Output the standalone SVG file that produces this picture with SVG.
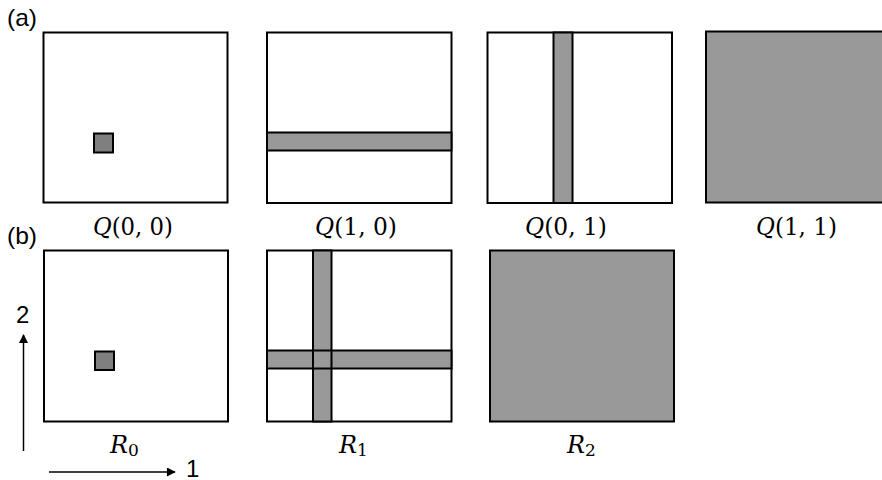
<svg xmlns="http://www.w3.org/2000/svg" width="882" height="480" viewBox="0 0 882 480">
<style>
.box{fill:#fff;stroke:#000;stroke-width:2}
.full{fill:#999;stroke:#000;stroke-width:2}
.bar{fill:#999;stroke:#000;stroke-width:2}
.dot{fill:#7f7f7f;stroke:#000;stroke-width:2}
.lab{font-family:"DejaVu Serif","Liberation Serif",serif;font-size:24px;fill:#000}
.it{font-style:italic}
.sans{font-family:"Liberation Sans",Arial,sans-serif;fill:#000;font-size:24px}
.ax{stroke:#000;stroke-width:1.5;fill:none}
</style>
<defs>
<marker id="ah" viewBox="0 0 10 10" refX="9" refY="5" markerWidth="10" markerHeight="9" orient="auto" markerUnits="userSpaceOnUse">
<path d="M0,0 L10,5 L0,10 z" fill="#000"/>
</marker>
</defs>
<text class="sans" x="7" y="26" textLength="30" lengthAdjust="spacingAndGlyphs">(a)</text>
<text class="sans" x="7" y="244" textLength="30" lengthAdjust="spacingAndGlyphs">(b)</text>

<g id="Q00">
<rect class="box" x="43.5" y="32.5" width="184" height="170"/>
<rect class="dot" x="94" y="133.5" width="19" height="19"/>
<text class="lab" x="93" y="235" textLength="80" lengthAdjust="spacingAndGlyphs"><tspan class="it">Q</tspan>(0, 0)</text>
</g>
<g id="Q10">
<rect class="box" x="267" y="32.5" width="184.5" height="170.5"/>
<rect class="bar" x="267" y="132.5" width="184.5" height="18"/>
<text class="lab" x="315" y="235" textLength="82" lengthAdjust="spacingAndGlyphs"><tspan class="it">Q</tspan>(1, 0)</text>
</g>
<g id="Q01">
<rect class="box" x="487.5" y="32.5" width="184.5" height="170.5"/>
<rect class="bar" x="553.5" y="32.5" width="19" height="170.5"/>
<text class="lab" x="525" y="235" textLength="82" lengthAdjust="spacingAndGlyphs"><tspan class="it">Q</tspan>(0, 1)</text>
</g>
<g id="Q11">
<rect class="full" x="706" y="31.5" width="190" height="171"/>
<text class="lab" x="756" y="235" textLength="81" lengthAdjust="spacingAndGlyphs"><tspan class="it">Q</tspan>(1, 1)</text>
</g>

<g id="R0">
<rect class="box" x="44" y="250.5" width="184" height="171"/>
<rect class="dot" x="95" y="351.5" width="19" height="18.5"/>
<text class="lab" x="110" y="453"><tspan class="it">R</tspan><tspan font-size="17" dy="3">0</tspan></text>
</g>
<g id="R1">
<rect class="box" x="267" y="250.5" width="184.5" height="171"/>
<rect class="bar" x="313" y="250.5" width="18.5" height="171"/>
<rect class="bar" x="267" y="350.5" width="184.5" height="18"/>
<path d="M313,350.5 V368.5 M331.5,350.5 V368.5" stroke="#000" stroke-width="2"/>
<text class="lab" x="339" y="453"><tspan class="it">R</tspan><tspan font-size="17" dy="3">1</tspan></text>
</g>
<g id="R2">
<rect class="full" x="490" y="250.5" width="184" height="171"/>
<text class="lab" x="567" y="453"><tspan class="it">R</tspan><tspan font-size="17" dy="3">2</tspan></text>
</g>

<g id="axes">
<line class="ax" x1="23.5" y1="451" x2="23.5" y2="335" marker-end="url(#ah)"/>
<line class="ax" x1="49" y1="472" x2="175" y2="472" marker-end="url(#ah)"/>
<text class="sans" x="16" y="323">2</text>
<text class="sans" x="186" y="477">1</text>
</g>
</svg>
